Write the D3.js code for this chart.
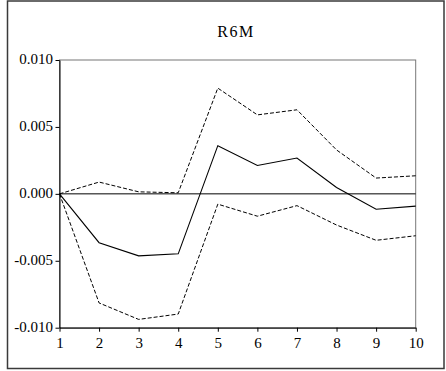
<!DOCTYPE html>
<html>
<head>
<meta charset="utf-8">
<script src="https://cdn.jsdelivr.net/npm/d3@7"></script>
<style>
  body { margin: 0; background: #fff; }
</style>
</head>
<body>
<div id="chart"></div>
<script>
const periods = [1, 2, 3, 4, 5, 6, 7, 8, 9, 10]
const response = [0, -0.00365, -0.00463, -0.00448, 0.0036, 0.00212, 0.00268, 0.00047, -0.00115, -0.00092]
const upperBand = [0, 0.00088, 0.00015, 0.00008, 0.0079, 0.0059, 0.00628, 0.00328, 0.00118, 0.00135]
const lowerBand = [0, -0.00815, -0.00938, -0.00898, -0.00077, -0.00167, -0.00088, -0.00233, -0.00347, -0.00313]
const yTicks = [-0.010, -0.005, 0.000, 0.005, 0.010]
const title = 'R6M'

const width = 446
const height = 371
const margin = { top: 60, right: 30.3, bottom: 43.3, left: 59.5 }
const serif = "'Liberation Serif', 'Times New Roman', Times, serif"

const svg = d3.select('#chart')
  .append('svg')
  .attr('width', width)
  .attr('height', height)

// outer frame
svg.append('rect')
  .attr('x', 7.5).attr('y', 1)
  .attr('width', 436.5).attr('height', 367.5)
  .attr('fill', 'none')
  .attr('stroke', '#3a3a3a')
  .attr('stroke-width', 1.5)

const x = d3.scaleLinear()
  .domain([1, 10])
  .range([margin.left, width - margin.right])

const y = d3.scaleLinear()
  .domain([-0.010, 0.010])
  .range([height - margin.bottom, margin.top])

// plot box (top / right in grey)
svg.append('rect')
  .attr('x', x(1)).attr('y', y(0.010))
  .attr('width', x(10) - x(1)).attr('height', y(-0.010) - y(0.010))
  .attr('fill', 'none')
  .attr('stroke', '#777')
  .attr('stroke-width', 1)

svg.append('text')
  .attr('x', 236)
  .attr('y', 36.5)
  .attr('text-anchor', 'middle')
  .style('font-family', serif)
  .style('font-size', '16px')
  .style('letter-spacing', '1.5px')
  .text(title)

const xAxis = svg.append('g')
  .attr('transform', `translate(0,${y(-0.010)})`)
  .call(d3.axisBottom(x).tickValues(periods).tickFormat(d3.format('d')).tickSize(4).tickSizeOuter(0))
xAxis.attr('font-family', null)
xAxis.select('.domain').attr('stroke', '#000')
xAxis.selectAll('text')
  .style('font-family', serif)
  .style('font-size', '15px')
  .attr('dy', '0.87em')

const yAxis = svg.append('g')
  .attr('transform', `translate(${x(1)},0)`)
  .call(d3.axisLeft(y).tickValues(yTicks).tickFormat(d3.format('.3f')).tickSize(4).tickSizeOuter(0))
yAxis.attr('font-family', null)
yAxis.select('.domain').attr('stroke', '#000')
yAxis.selectAll('text')
  .style('font-family', serif)
  .style('font-size', '15px')
  .attr('x', -6.5)
  .attr('dy', '0.24em')
  .text(d => d3.format('.3f')(d).replace('−', '-'))

// zero line
svg.append('line')
  .attr('x1', x(1)).attr('x2', x(10))
  .attr('y1', y(0)).attr('y2', y(0))
  .attr('stroke', '#000')
  .attr('stroke-width', 1)

const line = d3.line()
  .x((d, i) => x(periods[i]))
  .y(d => y(d))

svg.append('path')
  .datum(upperBand)
  .attr('d', line)
  .attr('fill', 'none')
  .attr('stroke', '#000')
  .attr('stroke-width', 1)
  .attr('stroke-dasharray', '4,2')

svg.append('path')
  .datum(lowerBand)
  .attr('d', line)
  .attr('fill', 'none')
  .attr('stroke', '#000')
  .attr('stroke-width', 1)
  .attr('stroke-dasharray', '4,2')

svg.append('path')
  .datum(response)
  .attr('d', line)
  .attr('fill', 'none')
  .attr('stroke', '#000')
  .attr('stroke-width', 1.1)
</script>
</body>
</html>
